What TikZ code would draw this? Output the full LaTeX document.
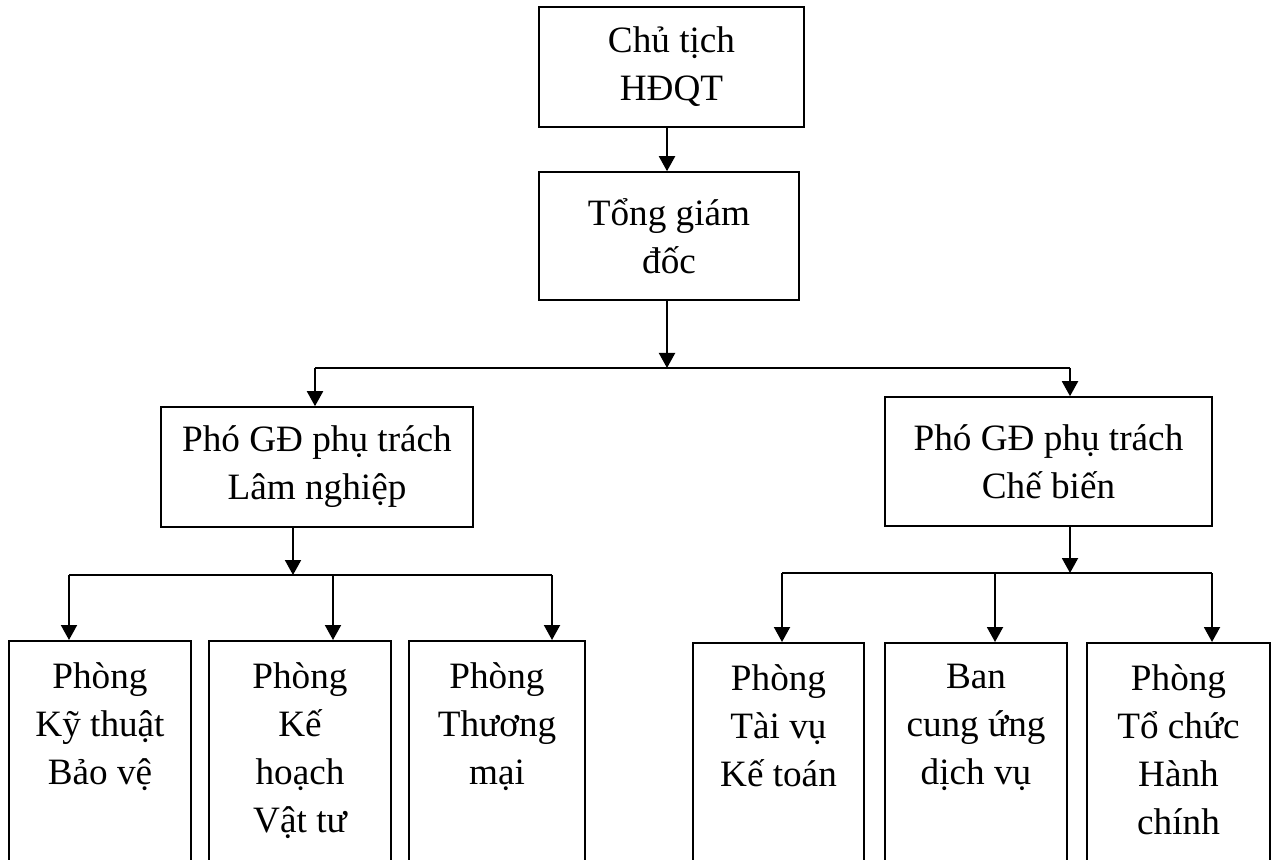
\documentclass[tikz,border=0pt]{standalone}
\usepackage{fontspec}
\setmainfont{Liberation Serif}
\usetikzlibrary{arrows.meta}
\usetikzlibrary{positioning}
\tikzstyle{org}=[draw=black, line width=0.8pt, align=center, inner sep=0pt, font=\fontsize{18.6}{24}\selectfont]
\tikzstyle{dept}=[org, anchor=north, inner ysep=10.7pt]
\tikzstyle{arr}=[line width=1pt, -{Triangle[length=7.5pt,width=8pt]}]
\tikzstyle{bus}=[line width=1pt]
\newcommand{\deptext}[2]{\parbox[t][120pt][t]{#1}{\centering #2}}

\begin{document}
\begin{tikzpicture}[x=0.5pt, y=-0.5pt]
\useasboundingbox (0,0) rectangle (1277,860);
\clip (0,0) rectangle (1277,860);
\node[org, minimum width=132.5pt, minimum height=60pt] (ct) at (671.5,67) {Chủ tịch\\HĐQT};
\node[org, minimum width=130pt, minimum height=64pt] (tgd) at (669,236) {Tổng giám\\đốc};
\node[org, minimum width=156pt, minimum height=60pt] (pgdln) at (317,467) {Phó GĐ phụ trách\\Lâm nghiệp};
\node[org, minimum width=163.5pt, minimum height=64.5pt] (pgdcb) at (1048.5,461.5) {Phó GĐ phụ trách\\Chế biến};
\node[dept] (p1) at (100,640) {\deptext{91pt}{Phòng\\Kỹ thuật\\Bảo vệ}};
\node[dept] (p2) at (300,640) {\deptext{91pt}{Phòng\\Kế\\hoạch\\Vật tư}};
\node[dept] (p3) at (497,640) {\deptext{88pt}{Phòng\\Thương\\mại}};
\node[dept] (p4) at (778.5,642) {\deptext{85.5pt}{Phòng\\Tài vụ\\Kế toán}};
\node[dept] (p5) at (976,642) {\deptext{91pt}{Ban\\cung ứng\\dịch vụ}};
\node[dept] (p6) at (1178.5,642) {\deptext{91.5pt}{Phòng\\Tổ chức\\Hành\\chính}};
\coordinate (top) at (667,368);
\coordinate (ul) at (315,368);
\coordinate (ur) at (1070,368);
\coordinate (lj) at (293,575);
\coordinate (rj) at (1070,573);
\coordinate (a1) at (69,575);
\coordinate (a2) at (333,575);
\coordinate (a3) at (552,575);
\coordinate (a4) at (782,573);
\coordinate (a5) at (995,573);
\coordinate (a6) at (1212,573);
\draw[arr] (ct.south -| top) -- (tgd.north -| top);
\draw[arr] (tgd.south -| top) -- (top);
\draw[bus] (ul) -- (ur);
\draw[arr] (ul) -- (ul |- pgdln.north);
\draw[arr] (ur) -- (ur |- pgdcb.north);
\draw[arr] (pgdln.south -| lj) -- (lj);
\draw[arr] (pgdcb.south -| rj) -- (rj);
\draw[bus] (a1) -- (a3);
\draw[bus] (a4) -- (a6);
\foreach \i in {1,...,6}
  \draw[arr] (a\i) -- (a\i |- p\i.north);
\end{tikzpicture}
\end{document}
